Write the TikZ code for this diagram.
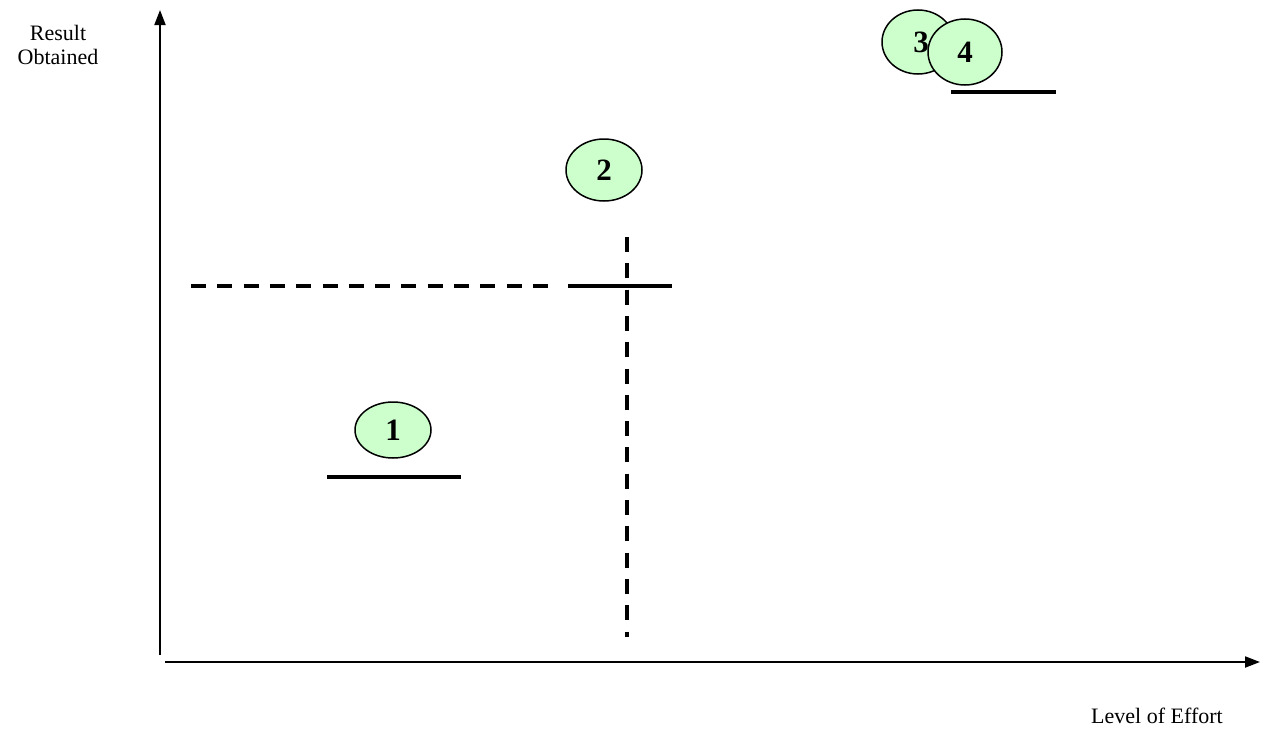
\documentclass[tikz,border=0pt]{standalone}
\usepackage{fontspec}
\setmainfont{Liberation Serif}
\usetikzlibrary{arrows.meta,shapes.geometric}
\begin{document}
\begin{tikzpicture}[x=1pt,y=-1pt,
  axis/.style={line width=2pt,-{Triangle[length=15pt,width=11pt]}},
  bar/.style={line width=3.5pt},
  dashline/.style={line width=3.5pt,dash pattern=on 15pt off 11.3pt},
  bubble/.style={ellipse,draw,line width=1.5pt,fill=green!20,font=\fontsize{31}{34}\selectfont\bfseries,inner sep=0pt},
  lbl/.style={font=\fontsize{22}{26}\selectfont,align=center}]
\useasboundingbox (0,0) rectangle (1261,736);
% axes
\coordinate (o) at (160,655);
\coordinate (ytip) at (160,10);
\coordinate (xs) at (165,662);
\coordinate (xtip) at (1260,662);
\draw[axis] (o) -- (ytip);
\draw[axis] (xs) -- (xtip);
\node[lbl] (ylab) at (58,45) {Result\\[-2pt]Obtained};
\node[lbl] (xlab) at (1157,716) {Level of Effort};
% dashed guides
\coordinate (h1) at (191,286);
\coordinate (h2) at (553,286);
\coordinate (v1) at (627,237);
\coordinate (v2) at (627,637);
\draw[dashline] (h1) -- (h2);
\draw[dashline] (v1) -- (v2);
% bars
\coordinate (b1a) at (327,477); \coordinate (b1b) at (461,477);
\coordinate (b2a) at (568,286); \coordinate (b2b) at (672,286);
\coordinate (b4a) at (951,92);  \coordinate (b4b) at (1056,92);
\draw[bar] (b1a) -- (b1b);
\draw[bar] (b2a) -- (b2b);
\draw[bar] (b4a) -- (b4b);
% bubbles
\node[bubble,minimum width=76pt,minimum height=56pt] (n1) at (393,430) {1};
\node[bubble,minimum width=76pt,minimum height=62pt] (n2) at (604,170) {2};
\node[bubble,minimum width=72pt,minimum height=64pt] (n3) at (918,42) {\hspace*{6pt}3};
\node[bubble,minimum width=74pt,minimum height=66pt] (n4) at (965,52) {4};
\end{tikzpicture}
\end{document}
